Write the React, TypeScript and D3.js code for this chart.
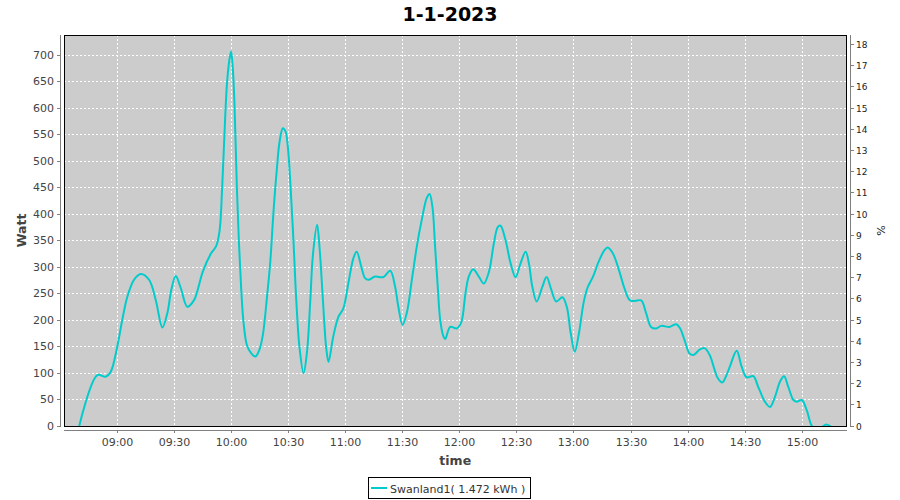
import React from "react";
import * as d3 from "d3";

const title = "1-1-2023";
const seriesName = "Swanland1( 1.472 kWh )";
const xAxisLabel = "time";
const yAxisLabel = "Watt";
const y2AxisLabel = "%";

// minutes since midnight
const minutes = [
  520.0, 529.5, 533.9, 536.5, 540.0, 542.6, 545.3, 548.8, 552.3, 556.7, 560.2, 563.7,
  566.3, 568.4, 570.7, 573.4, 576.8, 580.4, 582.1, 584.9, 589.3, 591.9, 593.7, 595.1,
  596.3, 597.6, 598.9, 599.8, 600.7, 601.6, 602.8, 603.9, 605.1, 606.3, 608.1, 610.4,
  612.6, 614.7, 616.5, 618.6, 620.4, 622.1, 623.9, 625.3, 627.0, 628.4, 629.7, 631.1,
  632.6, 634.1, 635.8, 637.9, 639.7, 641.4, 642.8, 645.0, 646.3, 648.1, 649.8, 651.0,
  653.5, 656.2, 658.8, 661.4, 664.1, 665.8, 668.4, 670.2, 672.0, 675.5, 679.8, 683.4,
  686.0, 687.7, 689.9, 692.1, 694.8, 697.4, 700.0, 702.6, 704.1, 705.6, 707.0, 708.4,
  709.7, 711.4, 712.3, 715.0, 718.4, 720.7, 723.0, 724.7, 727.0, 730.0, 732.6, 735.3,
  737.9, 740.0, 741.4, 744.0, 746.7, 749.3, 751.9, 754.6, 756.3, 758.1, 760.4, 763.4,
  765.6, 768.1, 770.7, 773.9, 776.2, 778.3, 780.4, 782.6, 785.0, 787.0, 790.0, 793.3,
  796.0, 797.7, 800.4, 803.9, 806.5, 809.2, 811.8, 815.3, 817.9, 820.5, 823.2, 825.8,
  830.2, 833.7, 835.8, 838.1, 840.7, 842.8, 846.0, 848.6, 851.3, 853.9, 855.6, 857.9,
  859.9, 861.9, 865.5, 868.1, 870.7, 874.2, 876.8, 880.3, 883.0, 885.6, 888.3, 890.4,
  892.6, 895.3, 897.0, 899.7, 902.3, 905.0, 908.0, 912.5, 916.0,
];

const watts = [
  0, 96, 93, 102, 150, 200, 244, 276, 287, 276, 238, 186,
  213, 257, 283, 260, 225, 238, 255, 291, 326, 339, 367, 449,
  549, 644, 691, 707, 675, 606, 455, 348, 260, 197, 153, 137,
  131, 144, 172, 241, 310, 405, 487, 537, 562, 556, 524, 449,
  348, 235, 147, 100, 140, 235, 323, 380, 336, 235, 147, 121,
  169, 206, 222, 269, 317, 329, 298, 279, 276, 282, 281, 293,
  263, 225, 191, 213, 276, 339, 389, 430, 438, 414, 339, 263,
  200, 169, 164, 187, 184, 195, 251, 282, 296, 282, 269, 291,
  345, 376, 378, 351, 307, 281, 307, 329, 307, 263, 235, 263,
  281, 257, 235, 243, 225, 175, 140, 175, 232, 260, 282, 313,
  332, 337, 326, 291, 260, 238, 236, 237, 213, 187, 184, 189,
  187, 192, 184, 162, 137, 134, 144, 147, 134, 106, 90, 82,
  94, 112, 142, 112, 92, 94, 74, 46, 36, 55, 84, 94,
  74, 49, 46, 49, 30, 0, -8, 3, -4,
];

const timeTicks = [
  "09:00", "09:30", "10:00", "10:30", "11:00", "11:30", "12:00",
  "12:30", "13:00", "13:30", "14:00", "14:30", "15:00",
];
const wattTicks = [0, 50, 100, 150, 200, 250, 300, 350, 400, 450, 500, 550, 600, 650, 700];
const pctTicks = [0, 1, 2, 3, 4, 5, 6, 7, 8, 9, 10, 11, 12, 13, 14, 15, 16, 17, 18];

const FONT = "DejaVu Sans";
const LINE_COLOR = "#00CCCC";

export default function App() {
  const base = new Date(2023, 0, 1, 0, 0, 0).getTime();
  const toDate = (m: number) => new Date(base + m * 60000);
  const parse = (s: string) => {
    const [h, mm] = s.split(":").map(Number);
    return toDate(h * 60 + mm);
  };

  const left = 64, right = 846.5, top = 35, bottom = 426;
  const x = d3.scaleTime().domain([toDate(512), toDate(923.2)]).range([left, right]);
  const yMax = 738;
  const y = d3.scaleLinear().domain([0, yMax]).range([bottom, top]);
  const y2 = d3.scaleLinear().domain([0, yMax / 40]).range([bottom, top]);
  const fmt = d3.timeFormat("%H:%M");

  const data = minutes.map((m, i) => ({ t: toDate(m), w: watts[i] }));
  const line = d3
    .line<{ t: Date; w: number }>()
    .x((d) => x(d.t))
    .y((d) => y(d.w))
    .curve(d3.curveCatmullRom.alpha(0.5));

  const px = (v: number) => Math.floor(v) + 0.5;

  return (
    <svg
      width={900}
      height={500}
      style={{ position: "absolute", left: 0, top: 0, background: "#fff" }}
      fontFamily={FONT}
    >
      <rect x={0} y={0} width={900} height={500} fill="#fff" />
      <text x={450} y={21} textAnchor="middle" fontSize={19} fontWeight="bold" fill="#000">
        {title}
      </text>

      <defs>
        <clipPath id="plotClip">
          <rect x={left} y={top} width={right - left} height={bottom - top} />
        </clipPath>
      </defs>

      {/* plot background */}
      <rect x={left} y={top} width={782} height={391} fill="#CCCCCC" />

      {/* grid */}
      <g shapeRendering="crispEdges" stroke="#fff" strokeWidth={1} strokeDasharray="2,2">
        {timeTicks.map((s) => (
          <line key={s} x1={px(x(parse(s)))} x2={px(x(parse(s)))} y1={top} y2={bottom} />
        ))}
        {wattTicks.map((v) => (
          <line key={v} x1={left} x2={right} y1={px(y(v))} y2={px(y(v))} />
        ))}
      </g>

      {/* series */}
      <g clipPath="url(#plotClip)">
        <path d={line(data) || ""} fill="none" stroke={LINE_COLOR} strokeWidth={2} strokeLinejoin="round" />
      </g>

      {/* plot border */}
      <rect x={left + 0.5} y={top + 0.5} width={782} height={391} fill="none" stroke="#000" strokeWidth={1} shapeRendering="crispEdges" />

      {/* left axis */}
      <g shapeRendering="crispEdges">
        <line x1={60.5} x2={60.5} y1={top} y2={bottom + 1} stroke="#808080" />
        {wattTicks.map((v) => (
          <g key={v}>
            <line x1={57} x2={60} y1={px(y(v))} y2={px(y(v))} stroke="#808080" />
          </g>
        ))}
      </g>
      {wattTicks.map((v) => (
        <text key={v} x={54} y={px(y(v))} dy="0.36em" textAnchor="end" fontSize={11} fill="#444">
          {v}
        </text>
      ))}
      <text
        transform={`translate(26,${(top + bottom) / 2}) rotate(-90)`}
        textAnchor="middle"
        fontSize={12.5}
        fontWeight="bold"
        fill="#444"
      >
        {yAxisLabel}
      </text>

      {/* bottom axis */}
      <g shapeRendering="crispEdges">
        <line x1={left} x2={right} y1={430.5} y2={430.5} stroke="#808080" />
        {timeTicks.map((s) => (
          <line key={s} x1={px(x(parse(s)))} x2={px(x(parse(s)))} y1={430} y2={433} stroke="#808080" />
        ))}
      </g>
      {timeTicks.map((s) => (
        <text key={s} x={px(x(parse(s)))} y={446} textAnchor="middle" fontSize={11} fill="#444">
          {fmt(parse(s))}
        </text>
      ))}
      <text x={(left + right) / 2} y={465} textAnchor="middle" fontSize={12.5} fontWeight="bold" fill="#444">
        {xAxisLabel}
      </text>

      {/* right axis */}
      <g shapeRendering="crispEdges">
        <line x1={850.5} x2={850.5} y1={top} y2={bottom + 1} stroke="#808080" />
        {pctTicks.map((v) => (
          <line key={v} x1={851} x2={854} y1={px(y2(v))} y2={px(y2(v))} stroke="#808080" />
        ))}
      </g>
      {pctTicks.map((v) => (
        <text key={v} x={856} y={px(y2(v))} dy="0.36em" textAnchor="start" fontSize={9} fill="#222">
          {v}
        </text>
      ))}
      <text
        transform={`translate(885,${(top + bottom) / 2}) rotate(-90)`}
        textAnchor="middle"
        fontSize={11}
        fill="#222"
      >
        {y2AxisLabel}
      </text>

      {/* legend */}
      <rect x={368.5} y={477.5} width={162} height={21} fill="#fff" stroke="#000" shapeRendering="crispEdges" />
      <line x1={371} x2={387} y1={488} y2={488} stroke={LINE_COLOR} strokeWidth={2} />
      <text x={390} y={492.5} fontSize={11} fill="#333">
        {seriesName}
      </text>
    </svg>
  );
}
